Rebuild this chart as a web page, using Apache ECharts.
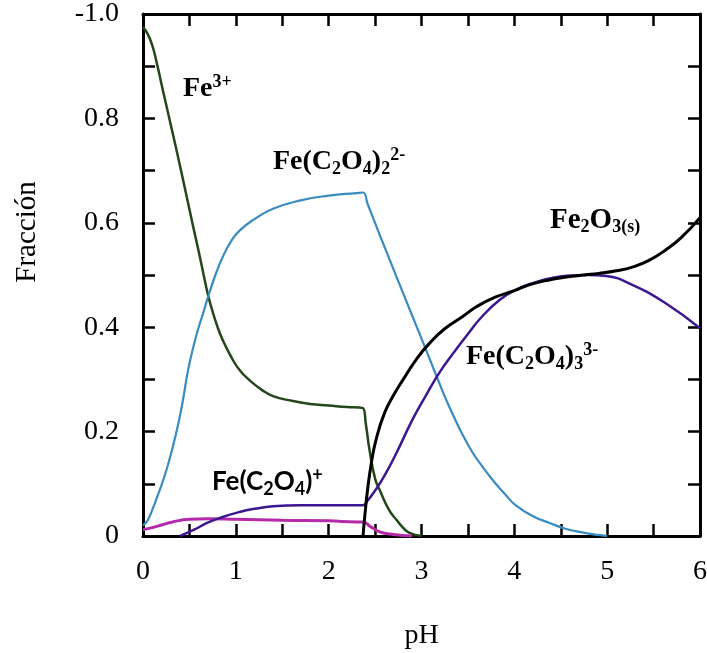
<!DOCTYPE html>
<html>
<head>
<meta charset="utf-8">
<script src="https://cdn.jsdelivr.net/npm/echarts@6/dist/echarts.min.js"></script>
<style>
	html,body{margin:0;padding:0;background:#fff;}
	#chart{width:707px;height:653px;}
</style>
</head>
<body>
<div id="chart"></div>
<script>
	// 横轴 / 纵轴刻度文字
	var xLabelText = ['0','1','2','3','4','5','6'];
	var yLabelText = ['0','','0.2','','0.4','','0.6','','0.8','','-1.0'];

	// Fe3+
	var fe3pH = [0, 0.05, 0.1, 0.15, 0.2, 0.25, 0.3, 0.35, 0.4, 0.45, 0.5, 0.55, 0.6, 0.65, 0.7, 0.75, 0.8, 0.86, 0.95, 1.04, 1.15, 1.28, 1.4, 1.6, 1.8, 2.0, 2.2, 2.33, 2.37, 2.40, 2.44, 2.5, 2.55, 2.65, 2.73, 2.8, 2.87, 3.0];
	var fe3 = [0.975, 0.962, 0.94, 0.905, 0.865, 0.826, 0.787, 0.748, 0.708, 0.667, 0.626, 0.585, 0.545, 0.503, 0.462, 0.43, 0.402, 0.375, 0.343, 0.318, 0.298, 0.28, 0.268, 0.259, 0.253, 0.25, 0.247, 0.246, 0.245, 0.215, 0.165, 0.11, 0.088, 0.05, 0.031, 0.016, 0.006, 0];
	// Fe(C2O4)2 2-
	var ox2pH = [0, 0.05, 0.1, 0.18, 0.25, 0.32, 0.38, 0.43, 0.47, 0.5, 0.55, 0.6, 0.65, 0.69, 0.78, 0.86, 0.95, 1.04, 1.2, 1.4, 1.7, 2.0, 2.3, 2.37, 2.42, 2.55, 2.73, 2.9, 3.05, 3.16, 3.3, 3.44, 3.55, 3.66, 3.8, 3.9, 4.02, 4.2, 4.38, 4.55, 4.73, 4.9, 5.0];
	var ox2 = [0.02, 0.03, 0.05, 0.088, 0.125, 0.17, 0.215, 0.26, 0.303, 0.33, 0.368, 0.40, 0.428, 0.452, 0.50, 0.535, 0.565, 0.585, 0.607, 0.627, 0.643, 0.652, 0.657, 0.658, 0.636, 0.577, 0.497, 0.422, 0.356, 0.307, 0.247, 0.195, 0.16, 0.132, 0.10, 0.08, 0.058, 0.038, 0.025, 0.014, 0.007, 0.002, 0];
	// Fe(C2O4)+
	var ox1pH = [0, 0.1, 0.2, 0.32, 0.5, 0.7, 1.0, 1.5, 2.0, 2.3, 2.37, 2.45, 2.55, 2.7, 2.9];
	var ox1 = [0.012, 0.016, 0.021, 0.027, 0.032, 0.033, 0.032, 0.03, 0.029, 0.027, 0.027, 0.018, 0.008, 0.003, 0];
	// Fe(C2O4)3 3-
	var ox3pH = [0.4, 0.55, 0.69, 0.85, 1.04, 1.2, 1.4, 1.7, 2.0, 2.3, 2.37, 2.42, 2.5, 2.6, 2.73, 2.9, 3.05, 3.2, 3.35, 3.5, 3.65, 3.84, 4.0, 4.19, 4.4, 4.6, 4.8, 4.99, 5.27, 5.63, 6];
	var ox3 = [0, 0.012, 0.025, 0.036, 0.046, 0.052, 0.057, 0.059, 0.059, 0.059, 0.059, 0.068, 0.087, 0.115, 0.159, 0.222, 0.27, 0.315, 0.352, 0.387, 0.42, 0.452, 0.47, 0.484, 0.494, 0.499, 0.5, 0.498, 0.481, 0.446, 0.398];
	// Fe2O3(s)
	var solidpH = [2.37, 2.39, 2.42, 2.46, 2.51, 2.6, 2.7, 2.8, 2.95, 3.09, 3.25, 3.44, 3.6, 3.8, 4.0, 4.16, 4.36, 4.56, 4.75, 4.91, 5.1, 5.27, 5.45, 5.63, 5.8, 6];
	var solid = [0, 0.04, 0.09, 0.14, 0.184, 0.235, 0.27, 0.299, 0.34, 0.37, 0.397, 0.42, 0.44, 0.458, 0.47, 0.481, 0.49, 0.496, 0.5, 0.503, 0.508, 0.515, 0.528, 0.548, 0.572, 0.61];

	function pairs(xs, ys){
		return xs.map(function(x, i){ return [x, ys[i]]; });
	}
	function line(name, xs, ys, color, width){
		return {
			name: name,
			type: 'line',
			showSymbol: false,
			smooth: 0.5,
			lineStyle: {color: color, width: width},
			data: pairs(xs, ys)
		};
	}

	var serif = 'Liberation Serif';
	var axisLine = {onZero: false, lineStyle: {color: '#000', width: 3}};
	var tick = {inside: true, length: 12, lineStyle: {color: '#000', width: 2.5}};
	function richFor(color, family, size){
		return {
			m: {fontFamily: family, fontSize: size, fontWeight: 'bold', lineHeight: 32, verticalAlign: 'middle', color: color},
			sub: {fontFamily: family, fontSize: 18, fontWeight: 'bold', lineHeight: 14, verticalAlign: 'bottom', color: color},
			sup: {fontFamily: family, fontSize: 18, fontWeight: 'bold', lineHeight: 20, verticalAlign: 'top', color: color}
		};
	}
	function tag(text, left, top, color, family, size){
		return {type: 'text', left: left, top: top, z: 100, style: {text: text, rich: richFor(color, family, size)}};
	}

	var myChart = echarts.init(document.getElementById('chart'));
	var option = {
		animation: false,
		backgroundColor: '#fff',
		grid: {left: 143, right: 7, top: 14, bottom: 117, outerBoundsMode: 'none'},
		xAxis: [{
			type: 'value', min: 0, max: 6, interval: 0.5, position: 'bottom',
			axisLine: axisLine, axisTick: tick, splitLine: {show: false},
			axisLabel: {
				margin: 22, color: '#000', fontFamily: serif, fontSize: 28, showMaxLabel: true, showMinLabel: true,
				formatter: function(v){ var k = Math.round(v * 2); return k % 2 ? '' : xLabelText[k / 2]; }
			},
			name: 'pH', nameLocation: 'middle', nameGap: 86,
			nameTextStyle: {color: '#000', fontFamily: serif, fontSize: 28}
		}, {
			type: 'value', min: 0, max: 6, interval: 0.5, position: 'top',
			axisLine: axisLine, axisTick: tick, splitLine: {show: false}, axisLabel: {show: false}
		}],
		yAxis: [{
			type: 'value', min: 0, max: 1, interval: 0.1, position: 'left',
			axisLine: axisLine, axisTick: tick, splitLine: {show: false},
			axisLabel: {
				margin: 24, color: '#000', fontFamily: serif, fontSize: 28, showMaxLabel: true, showMinLabel: true,
				formatter: function(v){ return yLabelText[Math.round(v * 10)] || ''; }
			}
		}, {
			type: 'value', min: 0, max: 1, interval: 0.1, position: 'right',
			axisLine: axisLine, axisTick: tick, splitLine: {show: false}, axisLabel: {show: false}
		}],
		graphic: [
			{type: 'text', x: 27, y: 232, rotation: Math.PI / 2,
				style: {text: 'Fracción', fontFamily: serif, fontSize: 29, fill: '#000', align: 'center', verticalAlign: 'middle'}},
			tag('{m|Fe}{sup|3+}', 183, 73, '#548235', serif, 28),
			tag('{m|Fe(C}{sub|2}{m|O}{sub|4}{m|)}{sub|2}{sup|2-}', 273, 146, '#5b9bd5', serif, 28),
			tag('{m|Fe}{sub|2}{m|O}{sub|3(s)}', 550, 206, '#000', serif, 29),
			tag('{m|Fe(C}{sub|2}{m|O}{sub|4}{m|)}{sub|3}{sup|3-}', 466, 341, '#7030a0', serif, 28),
			tag('{m|Fe(C}{sub|2}{m|O}{sub|4}{m|)}{sup|+}', 212, 466, '#ff66ff', 'Lato', 26)
		],
		series: [
			line('Fe3+', fe3pH, fe3, '#23471a', 2.5),
			line('Fe(C2O4)2 2-', ox2pH, ox2, '#3a8cc0', 2.2),
			line('Fe(C2O4)+', ox1pH, ox1, '#b52aaa', 3),
			line('Fe(C2O4)3 3-', ox3pH, ox3, '#3b1791', 2.5),
			line('Fe2O3(s)', solidpH, solid, '#000', 3)
		]
	};
	myChart.setOption(option);
</script>
</body>
</html>
